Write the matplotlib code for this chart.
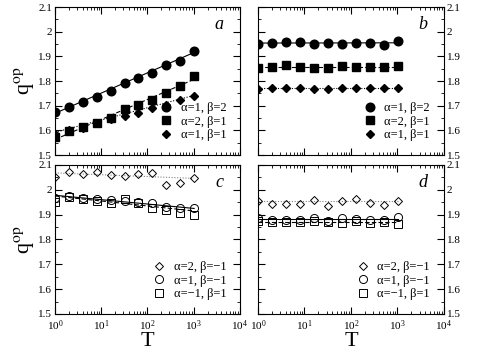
import numpy as np
import matplotlib
matplotlib.use("Agg")
import matplotlib.pyplot as plt
from matplotlib.ticker import MultipleLocator, LogLocator, NullFormatter, FuncFormatter

plt.rcParams["font.family"] = ["Liberation Serif", "DejaVu Serif"]
plt.rcParams["mathtext.fontset"] = "stix"

T = 2.0 ** np.arange(11)
T_FIT = [1.0, 1024.0]

# panel a
a_circ = [1.673, 1.693, 1.714, 1.735, 1.758, 1.793, 1.812, 1.834, 1.865, 1.880, 1.920]
a_sq = [1.572, 1.598, 1.612, 1.630, 1.652, 1.688, 1.702, 1.722, 1.750, 1.778, 1.820]
a_dia = [1.585, 1.603, 1.610, 1.628, 1.645, 1.660, 1.672, 1.690, 1.703, 1.725, 1.740]
a_fit = [[1.669, 1.916], [1.563, 1.807], [1.592, 1.742]]
# panel b
b_circ = [1.949, 1.953, 1.958, 1.957, 1.949, 1.953, 1.949, 1.955, 1.953, 1.947, 1.962]
b_sq = [1.854, 1.857, 1.864, 1.857, 1.854, 1.854, 1.862, 1.858, 1.856, 1.856, 1.862]
b_dia = [1.768, 1.772, 1.772, 1.772, 1.768, 1.768, 1.773, 1.772, 1.772, 1.772, 1.770]
b_fit = [[1.954, 1.955], [1.857, 1.857], [1.771, 1.771]]
# panel c
c_dia = [2.053, 2.072, 2.062, 2.070, 2.059, 2.056, 2.064, 2.066, 2.018, 2.026, 2.049]
c_circ = [1.966, 1.977, 1.966, 1.965, 1.958, 1.955, 1.950, 1.945, 1.930, 1.925, 1.926]
c_sq = [1.950, 1.972, 1.962, 1.957, 1.947, 1.965, 1.948, 1.927, 1.920, 1.908, 1.898]
c_fit = [[2.068, 2.046], [1.978, 1.925], [1.975, 1.915]]
# panel d
d_dia = [1.957, 1.943, 1.943, 1.944, 1.960, 1.936, 1.957, 1.964, 1.947, 1.939, 1.957]
d_circ = [1.885, 1.880, 1.878, 1.878, 1.885, 1.875, 1.885, 1.882, 1.878, 1.878, 1.890]
d_sq = [1.875, 1.872, 1.872, 1.870, 1.875, 1.872, 1.868, 1.875, 1.865, 1.872, 1.862]
d_fit = [[1.953, 1.953], [1.881, 1.881], [1.871, 1.871]]

top_labels = ["α=1, β=2", "α=2, β=1", "α=1, β=1"]
bot_labels = ["α=2, β=−1", "α=1, β=−1", "α=−1, β=1"]

fig = plt.figure(figsize=(4.79, 3.6), dpi=100)
axa = fig.add_axes([0.1148, 0.5694, 0.386, 0.411])
axb = fig.add_axes([0.5386, 0.5694, 0.388, 0.411])
axc = fig.add_axes([0.1148, 0.1278, 0.386, 0.4139])
axd = fig.add_axes([0.5386, 0.1278, 0.388, 0.4139])


def style(ax, letter, right=False, bottom=False):
    ax.set_xscale("log")
    ax.set_xlim(1, 1e4)
    ax.set_ylim(1.5, 2.1)
    ax.yaxis.set_major_locator(MultipleLocator(0.1))
    ax.yaxis.set_minor_locator(MultipleLocator(0.05))
    ax.yaxis.set_major_formatter(FuncFormatter(lambda v, p: f"{v:g}"))
    ax.xaxis.set_minor_locator(LogLocator(base=10, subs=np.arange(2, 10), numticks=20))
    ax.xaxis.set_minor_formatter(NullFormatter())
    ax.tick_params(which="both", direction="in", top=True, right=True, labelsize=8)
    ax.tick_params(axis="y", pad=2)
    ax.tick_params(axis="x", pad=3.5)
    ax.tick_params(which="major", length=5, width=0.8)
    ax.tick_params(which="minor", length=2.5, width=0.6)
    if right:
        ax.tick_params(labelleft=False, labelright=True)
    else:
        ax.set_ylabel(r"q$^{\rm op}$", fontsize=16, labelpad=1)
    if bottom:
        ax.set_xlabel("T", fontsize=16, labelpad=-1)
    else:
        ax.tick_params(labelbottom=False)
    ax.text(0.91, 0.88, letter, transform=ax.transAxes, ha="right", va="center",
            fontsize=13, style="italic")


def filled(ax, series, fits, labels):
    mk = [("o", 6.2), ("s", 5.2), ("D", 4.0)]
    ls = ["-", (0, (4, 2)), (0, (1, 1.5))]
    for ys, fit, lab, (m, s), l in zip(series, fits, labels, mk, ls):
        ax.plot(T_FIT, fit, color="k", lw=0.8, ls=l)
        ax.plot(T, ys, ls="none", marker=m, ms=s, color="k", label=lab)
    ax.legend(loc="lower right", frameon=False, fontsize=9, handletextpad=0.4,
              labelspacing=0.12, borderaxespad=0.7, handlelength=1.5)


def hollow(ax, series, fits, labels):
    mk = [("D", 4.0), ("o", 5.8), ("s", 5.2)]
    ls = [(0, (1, 1.5)), "-", (0, (4, 2))]
    cols = ["0.5", "k", "k"]
    for ys, fit, lab, (m, s), l, c in zip(series, fits, labels, mk, ls, cols):
        ax.plot(T_FIT, fit, color=c, lw=0.8, ls=l)
        ax.plot(T, ys, ls="none", marker=m, ms=s, mfc="none", mec="k", mew=0.7,
                color="k", label=lab)
    ax.legend(loc="lower right", frameon=False, fontsize=9, handletextpad=0.4,
              labelspacing=0.12, borderaxespad=0.7, handlelength=1.5)


style(axa, "a")
style(axb, "b", right=True)
style(axc, "c", bottom=True)
style(axd, "d", right=True, bottom=True)
filled(axa, [a_circ, a_sq, a_dia], a_fit, top_labels)
filled(axb, [b_circ, b_sq, b_dia], b_fit, top_labels)
hollow(axc, [c_dia, c_circ, c_sq], c_fit, bot_labels)
hollow(axd, [d_dia, d_circ, d_sq], d_fit, bot_labels)

fig.savefig("out.png", dpi=100)
